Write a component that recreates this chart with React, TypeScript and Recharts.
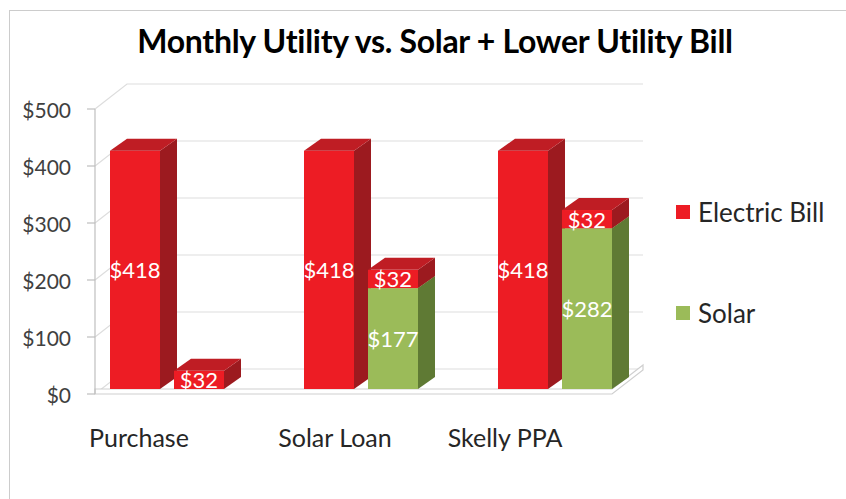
import React from "react";
import { BarChart, Bar, XAxis, YAxis, CartesianGrid, Legend, LabelList } from "recharts";

const categories = ["Purchase", "Solar Loan", "Skelly PPA"];
const electricBill = [418, 418, 418];
const solarCost = [0, 177, 282];
const lowerBill = [32, 32, 32];
const yTicks = [0, 100, 200, 300, 400, 500];

const data = categories.map((name, i) => ({
  name,
  bill: electricBill[i],
  solar: solarCost[i],
  lower: lowerBill[i],
}));

const FONT = "Lato, 'Open Sans', sans-serif";
const DX = 17;
const DY = 12;
const LIFT = 5;
const WALL_DX = 32;
const WALL_DY = 25;
// category labels sit a bit left of the groups, as in the 3D original
const LABEL_SHIFT = [-28, -26, -50];

const RED = { front: "#ed1c24", side: "#9c1a1f", top: "#bf1d24" };
const GREEN = { front: "#9bbb59", side: "#5f7a34", top: "#7f9c46" };

function box(colors: typeof RED) {
  return (props: any) => {
    const { x, y, width: w, height: h } = props;
    if (!h || h <= 0) return <g />;
    const t = y - LIFT;
    const b = y + h - LIFT;
    return (
      <g>
        <rect x={x} y={t} width={w} height={h} fill={colors.front} />
        <polygon
          points={`${x + w},${t} ${x + w + DX},${t - DY} ${x + w + DX},${b - DY} ${x + w},${b}`}
          fill={colors.side}
        />
        <polygon
          points={`${x},${t} ${x + DX},${t - DY} ${x + w + DX},${t - DY} ${x + w},${t}`}
          fill={colors.top}
        />
      </g>
    );
  };
}

const valueLabel = (props: any) => {
  const { x, y, width, height, value } = props;
  if (!value) return null;
  return (
    <text
      x={x + width / 2}
      y={y + height / 2 - LIFT}
      fill="#ffffff"
      fontSize={22}
      fontFamily={FONT}
      textAnchor="middle"
      dominantBaseline="central"
    >
      ${value}
    </text>
  );
};

const gridLine = (props: any) => {
  const { x1, y1, x2, index } = props;
  const y = y1;
  const isFloor = Math.abs(y - 394) < 2;
  return (
    <g key={`g-${index}-${y}`}>
      <polyline
        points={`${x1},${y} ${x1 + WALL_DX},${y - WALL_DY} ${x2 + 3},${y - WALL_DY}`}
        fill="none"
        stroke="#dddddd"
        strokeWidth={1.2}
      />
      {isFloor && (
        <polygon
          points={`${x1},${y} ${x2 - 28},${y} ${x2 + 3},${y - WALL_DY + 1} ${x2 + 3},${y - WALL_DY - 4} ${x2 - 28},${y - 5} ${x1},${y - 5}`}
          fill="#ffffff"
          stroke="#cfcfcf"
          strokeWidth={1.2}
        />
      )}
    </g>
  );
};

const yTick = (props: any) => {
  const { x, y, payload } = props;
  return (
    <text x={x} y={y} fill="#404040" fontSize={21} fontFamily={FONT} textAnchor="end" dominantBaseline="central">
      ${payload.value}
    </text>
  );
};

const xTick = (props: any) => {
  const { x, y, payload, index } = props;
  return (
    <text x={x + (LABEL_SHIFT[index] ?? -30)} y={y + 45} fill="#262626" fontSize={25} fontFamily={FONT} textAnchor="middle">
      {payload.value}
    </text>
  );
};

const legendContent = () => (
  <div style={{ fontFamily: FONT, fontSize: 26, color: "#262626" }}>
    {[
      { label: "Electric Bill", color: RED.front },
      { label: "Solar", color: GREEN.front },
    ].map((it, i) => (
      <div key={it.label} style={{ display: "flex", alignItems: "center", height: 30, marginTop: i === 0 ? 0 : 71 }}>
        <span style={{ width: 14, height: 14, background: it.color, display: "inline-block", marginRight: 8 }} />
        <span>{it.label}</span>
      </div>
    ))}
  </div>
);

export default function App() {
  return (
    <div style={{ position: "absolute", left: 0, top: 0, width: 846, height: 499, overflow: "hidden", background: "#fff" }}>
      <div
        style={{
          position: "absolute",
          left: 9,
          top: 10,
          width: 900,
          height: 520,
          borderLeft: "1.5px solid #cccccc",
          borderTop: "1.5px solid #cccccc",
        }}
      />
      <div
        style={{
          position: "absolute",
          left: 0,
          top: 23,
          width: 870,
          textAlign: "center",
          fontFamily: FONT,
          fontWeight: 700,
          fontSize: 32,
          color: "#000",
          lineHeight: "36px",
          letterSpacing: -0.3,
        }}
      >
        Monthly Utility vs. Solar + Lower Utility Bill
      </div>
      <div style={{ position: "absolute", left: 0, top: 0 }}>
        <BarChart
          width={846}
          height={499}
          data={data}
          margin={{ top: 109, right: 206, bottom: 45, left: 0 }}
          barSize={50}
          barGap={14}
        >
          <CartesianGrid vertical={false} horizontal={gridLine} />
          <XAxis
            dataKey="name"
            height={60}
            axisLine={false}
            tickLine={false}
            tick={xTick}
            padding={{ left: -25, right: -12 }}
          />
          <YAxis
            width={95}
            domain={[0, 500]}
            ticks={yTicks}
            interval={0}
            axisLine={{ stroke: "#bfbfbf", strokeWidth: 1.2 }}
            tickLine={{ stroke: "#bfbfbf", strokeWidth: 1.2 }}
            tickSize={8}
            tickMargin={16}
            tick={yTick}
          />
          <Legend
            layout="vertical"
            align="center"
            verticalAlign="middle"
            content={legendContent}
            wrapperStyle={{ position: "absolute", left: 676, top: 197, width: 170, height: 140 }}
          />
          <Bar dataKey="bill" name="Electric Bill" stackId="a" fill={RED.front} shape={box(RED)} isAnimationActive={false}>
            <LabelList dataKey="bill" content={valueLabel} />
          </Bar>
          <Bar dataKey="solar" name="Solar" stackId="b" fill={GREEN.front} shape={box(GREEN)} isAnimationActive={false}>
            <LabelList dataKey="solar" content={valueLabel} />
          </Bar>
          <Bar dataKey="lower" name="Lower Bill" stackId="b" fill={RED.front} legendType="none" shape={box(RED)} isAnimationActive={false}>
            <LabelList dataKey="lower" content={valueLabel} />
          </Bar>
        </BarChart>
      </div>
    </div>
  );
}
